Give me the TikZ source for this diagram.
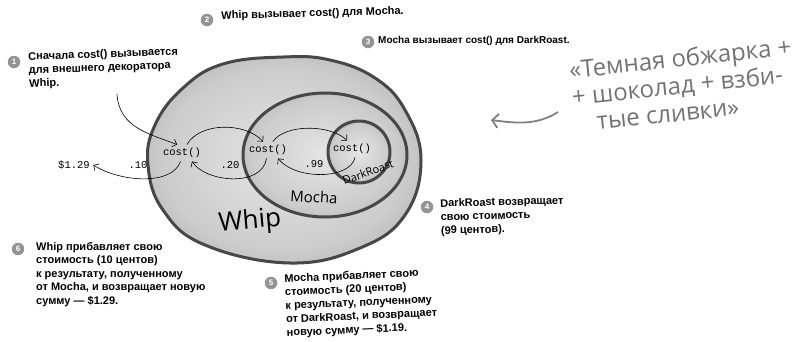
\documentclass[tikz,border=0pt]{standalone}
\usepackage{fontspec}
\setmainfont{Liberation Sans}
\newfontfamily\codefont{Liberation Mono}
\newfontfamily\handfont{Open Sans}
\usetikzlibrary{arrows.meta}
\pgfdeclareradialshading{blobshade}{\pgfpoint{0bp}{0bp}}{%
  color(0bp)=(black!10); color(22bp)=(black!20);
  color(35bp)=(black!34); color(44bp)=(black!54); color(50bp)=(black!70)}
\begin{document}
\begin{tikzpicture}[
    x=1pt, y=-1pt,
    >={Straight Barb[length=4pt,width=8pt]},
    num/.style={
        circle,
        fill=black!42,
        text=white,
        inner sep=0pt,
        minimum size=12.5pt,
        font=\bfseries\fontsize{8}{8}\selectfont
    },
    note/.style={
        anchor=north west,
        align=left,
        inner sep=0pt,
        font=\bfseries\fontsize{11}{13.5}\selectfont
    },
    code/.style={font=\codefont\fontsize{10.5}{12}\selectfont},
    hand/.style={font=\handfont\fontsize{#1}{#1}\selectfont},
    blob/.style={shading=blobshade, draw=black!72, line width=3pt},
    arr/.style={->, semithick},
    garr/.style={-{Straight Barb[length=6pt,width=14pt]}, line width=1.8pt, black!50}
]
    \useasboundingbox (0,0) rectangle (805,341);

    \shadedraw[blob] plot[smooth cycle, tension=0.7] coordinates {
        (283,57) (223,64) (183,88) (155,125) (148,165) (163,210)
        (205,245) (290,263) (360,248) (405,215) (421,160) (405,110)
        (375,78) (330,60)};
    \shadedraw[blob] (325,155) ellipse [x radius=82, y radius=62];
    \shadedraw[blob] (359,152) circle [radius=31];

    \node[hand=26, rotate=5] (whip) at (250,222) {Whip};
    \node[hand=15, rotate=-3] (mocha) at (314,197) {Mocha};
    \node[hand=11, rotate=20] (dark) at (368,172) {DarkRoast};

    \node[code] (c1) at (182,153) {cost()};
    \node[code] (c2) at (268,150) {cost()};
    \node[code] (c3) at (352,149) {cost()};
    \node[code] (tot) at (74,165) {\$1.29};
    \node[code] (v10) at (138,165) {.10};
    \node[code] (v20) at (230,165) {.20};
    \node[code] (v99) at (314,164) {.99};

    \coordinate (s1) at (117,94);
    \draw[arr] (s1) .. controls (119,128) and (150,134) .. (c1.120);
    \draw[arr] (c1.60) .. controls (200,122) and (245,122) .. (c2.120);
    \draw[arr] (c2.60) .. controls (285,124) and (330,124) .. (c3.120);
    \draw[arr] (c3.-70) .. controls (350,180) and (295,180) .. (c2.-40);
    \draw[arr] (c2.-100) .. controls (262,188) and (205,182) .. (c1.-40);
    \draw[arr] (c1.-100) .. controls (172,186) and (120,182) .. (tot.east);

    \node[num] (n1) at (14,62) {1};
    \node[note, rotate=2] (t1) at (28,52)
        {Сначала cost() вызывается\\для внешнего декоратора\\Whip.};
    \node[num] (n2) at (207,20) {2};
    \node[note, rotate=1.5] (t2) at (221,11)
        {Whip вызывает cost() для Mocha.};
    \node[num] (n3) at (368,42) {3};
    \node[note, font=\bfseries\fontsize{10}{12}\selectfont] (t3) at (378,36)
        {Mocha вызывает cost() для DarkRoast.};
    \node[num] (n4) at (427,207) {4};
    \node[note, rotate=1.5] (t4) at (440,199)
        {DarkRoast возвращает\\свою стоимость\\(99 центов).};
    \node[num] (n5) at (271,283) {5};
    \node[note, rotate=2.5] (t5) at (284,274)
        {Mocha прибавляет свою\\стоимость (20 центов)\\к результату, полученному\\от DarkRoast, и возвращает\\новую сумму — \$1.19.};
    \node[num] (n6) at (18,249) {6};
    \node[note] (t6) at (36,242)
        {Whip прибавляет свою\\стоимость (10 центов)\\к результату, полученному\\от Mocha, и возвращает новую\\сумму — \$1.29.};

    \node[font=\handfont\fontsize{24}{27}\selectfont, text=black!55,
        align=left, anchor=north west, inner sep=0pt, rotate=6]
        (quote) at (568,60)
        {«Темная обжарка +\\+ шоколад + взби-\\\hspace*{22pt}тые сливки»};
    \coordinate (qa) at (558,112);
    \coordinate (qb) at (491,120);
    \draw[garr] (qa) .. controls (536,126) and (515,123) .. (qb);
\end{tikzpicture}
\end{document}
